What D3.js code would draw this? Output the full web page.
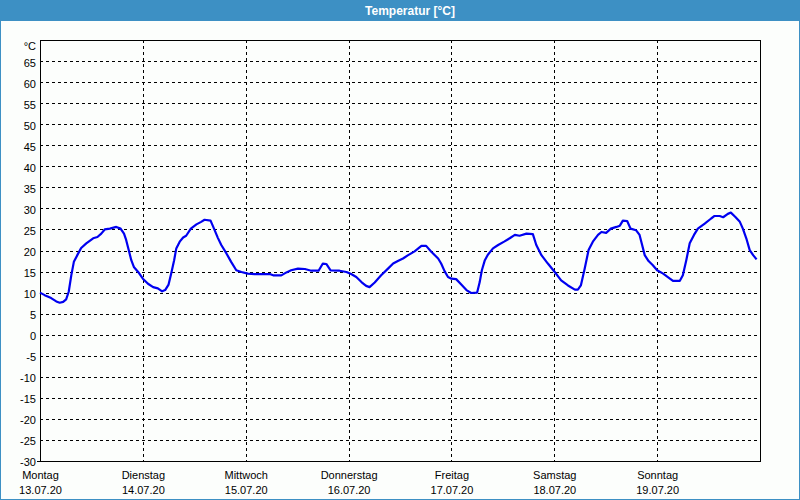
<!DOCTYPE html>
<html>
<head>
<meta charset="utf-8">
<script src="https://cdn.jsdelivr.net/npm/d3@7"></script>
<style>
  html, body { margin: 0; padding: 0; background: #fcfefc; }
  svg { display: block; }
  text { font-family: "Liberation Sans", Arial, sans-serif; }
</style>
</head>
<body>
<svg id="chart" width="800" height="500"></svg>
<script>
// ---- data ----
const title = "Temperatur [°C]";
const unitLabel = "°C";
const dayNames = ["Montag", "Dienstag", "Mittwoch", "Donnerstag", "Freitag", "Samstag", "Sonntag"];
const dayDates = ["13.07.20", "14.07.20", "15.07.20", "16.07.20", "17.07.20", "18.07.20", "19.07.20"];
const dayHours = [0, 24, 48, 72, 96, 120, 144];
const yTicks = [65, 60, 55, 50, 45, 40, 35, 30, 25, 20, 15, 10, 5, 0, -5, -10, -15, -20, -25, -30];
// hours since Monday 00:00
const hours = [
  0, 1.1, 2.6, 3.8, 4.6, 5.4, 6.1, 6.7, 7.3, 7.9, 8.7, 9.6, 10.8, 12.4, 13.4, 14.3, 15.1, 16.3, 17.8, 18.8,
  19.6, 20.1, 20.7, 21.3, 21.9, 22.9, 24.0, 25.2, 26.4, 27.5, 28.5, 29.2, 30.0, 30.6, 31.3, 31.8, 32.6, 33.4,
  34.1, 35.2, 36.5, 37.6, 38.4, 39.8, 40.6, 41.5, 42.3, 43.5, 44.6, 45.8, 47.0, 48.5, 50.1, 53.6, 54.4, 56.3,
  57.5, 58.6, 60.2, 61.8, 63.3, 65.0, 66.0, 66.8, 67.8, 69.9, 71.5, 72.6, 73.8, 75.0, 76.1, 76.9, 78.1, 79.6,
  81.2, 82.4, 83.5, 84.7, 85.9, 87.4, 89.0, 90.1, 91.3, 92.9, 93.6, 94.4, 95.2, 96.0, 97.1, 98.3, 99.5, 100.6,
  102.0, 102.6, 103.1, 103.8, 104.5, 105.7, 106.9, 108.3, 109.6, 110.8, 111.9, 113.5, 115.0, 115.8, 117.0,
  118.5, 120.1, 121.6, 123.2, 124.8, 125.5, 126.2, 127.1, 128.0, 129.0, 130.2, 131.0, 132.1, 133.2, 134.5,
  135.3, 136.0, 137.0, 137.8, 139.1, 139.9, 140.5, 141.1, 142.0, 143.0, 144.0, 145.4, 146.5, 147.7, 149.3,
  150.0, 150.8, 151.6, 152.6, 153.5, 155.1, 156.6, 157.4, 158.6, 159.4, 160.5, 161.2, 162.2, 163.3, 164.0,
  164.8, 165.6, 166.4, 167.2
];
const temps = [
  10.0, 9.4, 8.7, 7.9, 7.6, 7.8, 8.4, 10.2, 14.1, 17.3, 18.9, 20.6, 21.7, 22.9, 23.2, 24.0, 25.0, 25.2, 25.6, 25.2,
  24.0, 22.5, 20.1, 17.7, 16.1, 14.9, 13.3, 12.1, 11.3, 11.0, 10.3, 10.6, 11.9, 14.5, 17.7, 20.5, 22.1, 23.1,
  23.5, 25.2, 26.2, 26.8, 27.3, 27.1, 25.2, 23.0, 21.3, 19.3, 17.3, 15.3, 14.9, 14.5, 14.4, 14.4, 14.1, 14.1,
  14.8, 15.3, 15.7, 15.6, 15.2, 15.2, 16.9, 16.8, 15.3, 15.2, 14.9, 14.4, 13.7, 12.5, 11.6, 11.3, 12.4, 14.1,
  15.7, 16.9, 17.5, 18.1, 18.9, 19.8, 21.1, 21.1, 19.7, 18.1, 16.9, 15.1, 13.7, 13.3, 13.2, 11.9, 10.6, 9.9,
  10.0, 12.5, 15.3, 17.7, 19.0, 20.5, 21.3, 22.1, 22.9, 23.7, 23.5, 24.0, 23.9, 21.3, 18.9,
  16.9, 14.9, 12.9, 11.7, 10.7, 10.7, 11.7, 15.7, 20.1, 22.1, 23.7, 24.4, 24.2, 25.2, 25.6,
  25.9, 27.1, 27.0, 25.2, 24.8, 23.7, 21.3, 18.9, 17.5, 16.5, 15.3, 14.5, 13.7, 12.8, 12.8,
  14.1, 17.7, 21.7, 23.7, 25.2, 26.4, 27.6, 28.2, 28.2, 27.9, 28.7, 29.0, 28.0, 26.8, 25.2,
  22.9, 20.1, 18.9, 17.9
];

// ---- layout ----
const W = 800, H = 500;
const plot = { left: 40, right: 760, top: 40, bottom: 461 };
const barColor = "#3d90c4";

const svg = d3.select("#chart");

// background + frame
svg.append("rect").attr("x", 0).attr("y", 0).attr("width", W).attr("height", H).attr("fill", "#fcfefc");
svg.append("rect").attr("x", 0.5).attr("y", 0.5).attr("width", W - 1).attr("height", H - 1)
  .attr("fill", "none").attr("stroke", barColor).attr("stroke-width", 1);
svg.append("rect").attr("x", 0).attr("y", 0).attr("width", W).attr("height", 21).attr("fill", barColor);
svg.append("text").attr("x", 410).attr("y", 11).attr("text-anchor", "middle")
  .attr("dominant-baseline", "central").attr("fill", "#ffffff")
  .attr("font-size", "12px").attr("font-weight", "bold").text(title);

const x = d3.scaleLinear().domain([0, 168]).range([plot.left, plot.right]);
const y = d3.scaleLinear().domain([-30, 70]).range([plot.bottom, plot.top]);

// grid
const grid = svg.append("g").attr("shape-rendering", "crispEdges")
  .attr("stroke", "#000").attr("stroke-width", 1).attr("stroke-dasharray", "3,3");
grid.selectAll("line.h").data(yTicks.filter(v => v > -30)).join("line")
  .attr("class", "h")
  .attr("x1", plot.left).attr("x2", plot.right)
  .attr("y1", d => Math.round(y(d)) + 0.5).attr("y2", d => Math.round(y(d)) + 0.5);
grid.selectAll("line.v").data(dayHours.filter(h => h > 0)).join("line")
  .attr("class", "v")
  .attr("y1", plot.top).attr("y2", plot.bottom)
  .attr("x1", d => Math.round(x(d)) + 0.5).attr("x2", d => Math.round(x(d)) + 0.5);

// frame of plot
const frame = svg.append("g").attr("shape-rendering", "crispEdges").attr("stroke", "#000").attr("fill", "none");
frame.append("rect").attr("x", plot.left + 0.5).attr("y", plot.top + 0.5)
  .attr("width", plot.right - plot.left).attr("height", plot.bottom - plot.top);

// y axis
const yAxis = d3.axisLeft(y).tickValues(yTicks).tickSize(0).tickPadding(4).tickFormat(d => d);
const gy = svg.append("g").attr("transform", `translate(${plot.left},0)`).call(yAxis);
gy.select(".domain").remove();
gy.selectAll("text").attr("font-size", "11px").attr("fill", "#000")
  .attr("font-family", "'Liberation Sans', Arial, sans-serif").attr("dy", "0.45em");
svg.append("text").attr("x", 36).attr("y", 46).attr("text-anchor", "end")
  .attr("dominant-baseline", "central").attr("font-size", "11px").text(unitLabel);
svg.append("line").attr("x1", 37).attr("x2", 40).attr("y1", plot.bottom + 0.5).attr("y2", plot.bottom + 0.5)
  .attr("stroke", "#000").attr("shape-rendering", "crispEdges");

// x axis
const xAxis = d3.axisBottom(x).tickValues(dayHours).tickSize(0).tickPadding(10).tickFormat((d, i) => dayNames[i]);
const gx = svg.append("g").attr("transform", `translate(0,${plot.bottom})`).call(xAxis);
gx.select(".domain").remove();
gx.selectAll("text").attr("font-size", "11px").attr("fill", "#000")
  .attr("font-family", "'Liberation Sans', Arial, sans-serif");
gx.selectAll(".tick").append("text")
  .attr("y", 25).attr("dy", "0.71em").attr("fill", "#000").attr("font-size", "11px")
  .attr("font-family", "'Liberation Sans', Arial, sans-serif")
  .text((d, i) => dayDates[i]);

// line
const data = hours.map((h, i) => ({ h, t: temps[i] }));
const line = d3.line().x(d => x(d.h)).y(d => y(d.t));
svg.append("path").datum(data).attr("d", line)
  .attr("fill", "none").attr("stroke", "#0000f0").attr("stroke-width", 2.2)
  .attr("stroke-linejoin", "round");
</script>
</body>
</html>
